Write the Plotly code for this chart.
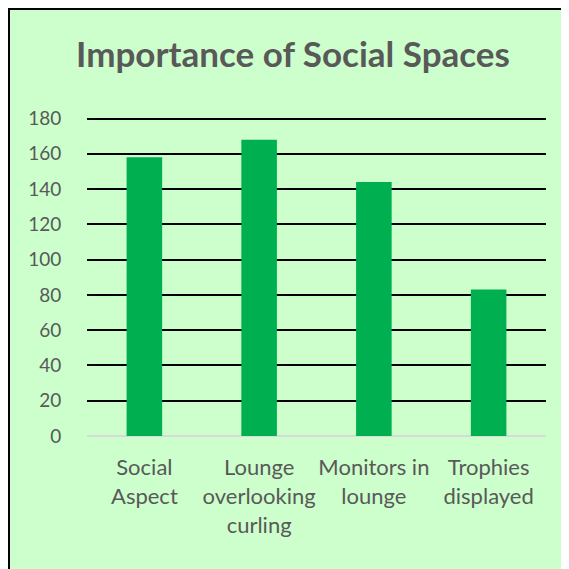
import plotly.graph_objects as go

categories = ["Social<br>Aspect", "Lounge<br>overlooking<br>curling", "Monitors in<br>lounge", "Trophies<br>displayed"]
values = [158, 168, 144, 83]
y_ticks = [0, 20, 40, 60, 80, 100, 120, 140, 160, 180]
y_max = 182

# page body has an 8px margin; positions below are in figure coordinates
W = H = 569
OFF = 8
ppu = (436 - 119) / 180.0
L = 87 - OFF
R = W - (546 - OFF)
B = H - (436 - OFF)
T = round(H - B - ppu * y_max)
pw, ph = W - L - R, H - T - B

def px_x(p):
    return (p - OFF - L) / pw

def px_y(p):
    return (H - B - (p - OFF)) / ph

fig = go.Figure(go.Bar(x=categories, y=values, marker=dict(color="#00B050", line=dict(width=0)), width=0.31))

fig.add_shape(type="rect", xref="paper", yref="paper",
              x0=px_x(9), x1=px_x(700), y0=px_y(700), y1=px_y(9),
              fillcolor="#CCFFCC", line=dict(color="black", width=2), layer="below")

fig.update_layout(
    width=W, height=H,
    margin=dict(l=L, r=R, t=T, b=B),
    paper_bgcolor="white", plot_bgcolor="rgba(0,0,0,0)",
    font=dict(family="Lato", color="#595959", size=19),
    title=dict(text="<b>Importance of Social Spaces</b>", x=(293 - OFF) / W, xref="container", xanchor="center",
               y=1 - (55 - OFF) / H, yref="container", yanchor="middle", font=dict(size=35, color="#595959")),
    showlegend=False,
    bargap=0.69,
)
fig.update_yaxes(range=[0, y_max], tickvals=y_ticks, showgrid=True, gridcolor="black", gridwidth=2,
                 zeroline=True, zerolinecolor="#D9D9D9", zerolinewidth=2,
                 ticks="outside", ticklen=21, tickcolor="rgba(0,0,0,0)", showline=False,
                 tickfont=dict(size=19, color="#595959"))
fig.update_xaxes(showline=False, ticks="outside", ticklen=12, tickcolor="rgba(0,0,0,0)",
                 tickfont=dict(size=22, color="#595959"))

fig.write_html("out.html")
